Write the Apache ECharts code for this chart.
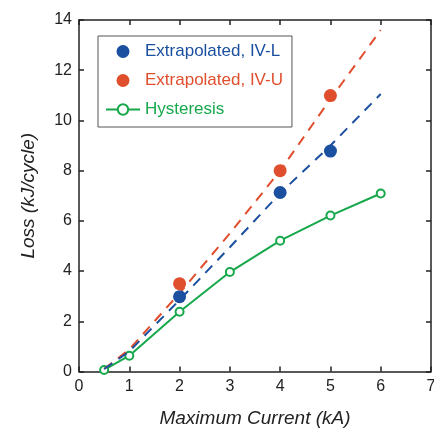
<!DOCTYPE html>
<html><head><meta charset="utf-8">
<script src="https://cdn.jsdelivr.net/npm/echarts@6/dist/echarts.min.js"></script>
<style>html,body{margin:0;padding:0;background:#fff}#c{width:434px;height:433px}</style>
</head><body><div id="c"></div>
<script>
// Data
const xTicks = [0, 1, 2, 3, 4, 5, 6, 7];
const yTicks = [0, 2, 4, 6, 8, 10, 12, 14];
const hystX = [0.5, 1, 2, 3, 4, 5, 6];
const hystY = [0.06, 0.63, 2.38, 3.96, 5.21, 6.21, 7.09];
const ivlX = [2, 4, 5];
const ivlY = [2.98, 7.13, 8.78];
const ivuX = [2, 4, 5];
const ivuY = [3.5, 8.0, 10.99];
const fitX = [0.5, 1, 2, 3, 4, 5, 6];
const fitLY = [0.1, 0.8, 2.85, 4.95, 7.1, 9.0, 11.05];
const fitUY = [0.1, 0.88, 3.12, 5.5, 8.0, 10.85, 13.6];

const BLUE = '#1b4f9f', RED = '#e04f2d', GREEN = '#16a84b', AX = '#222';
const FONT = "'Liberation Sans', Arial, Helvetica, sans-serif";
const pairs = (xs, ys) => xs.map((x, i) => [x, ys[i]]);

const axisCommon = {
  type: 'value',
  axisLine: { show: true, onZero: false, lineStyle: { color: AX, width: 1.5 } },
  axisTick: { show: true, inside: true, length: 5, lineStyle: { color: AX, width: 1.5 } },
  splitLine: { show: false }
};
const chart = echarts.init(document.getElementById('c'), null, { renderer: 'canvas' });
chart.setOption({
  animation: false,
  backgroundColor: '#fff',
  grid: { left: 79, right: 3, top: 20, bottom: 61.5, containLabel: false, outerBoundsMode: 'none' },
  xAxis: [
    Object.assign({}, axisCommon, {
      position: 'bottom', min: xTicks[0], max: xTicks[xTicks.length - 1], interval: 1,
      axisLabel: { fontSize: 16, color: '#222', margin: 7, fontFamily: FONT },
      name: 'Maximum Current (kA)', nameLocation: 'middle', nameGap: 38,
      nameTextStyle: { fontSize: 19, fontStyle: 'italic', color: '#222', fontFamily: FONT }
    }),
    Object.assign({}, axisCommon, {
      position: 'top', min: xTicks[0], max: xTicks[xTicks.length - 1], interval: 1,
      axisLabel: { show: false }
    })
  ],
  yAxis: [
    Object.assign({}, axisCommon, {
      position: 'left', min: yTicks[0], max: yTicks[yTicks.length - 1], interval: 2,
      axisLabel: { fontSize: 16, color: '#222', margin: 7, fontFamily: FONT },
      name: 'Loss (kJ/cycle)', nameLocation: 'middle', nameGap: 41,
      nameTextStyle: { fontSize: 19, fontStyle: 'italic', color: '#222', fontFamily: FONT }
    }),
    Object.assign({}, axisCommon, {
      position: 'right', min: yTicks[0], max: yTicks[yTicks.length - 1], interval: 2,
      axisLabel: { show: false }
    })
  ],
  legend: {
    orient: 'vertical', left: 98, top: 36, padding: [7, 9, 9, 7],
    itemWidth: 34, itemHeight: 13, itemGap: 12,
    borderColor: '#555', borderWidth: 1, backgroundColor: '#fff',
    selectedMode: false,
    textStyle: { fontSize: 17, lineHeight: 17, fontFamily: FONT },
    data: [
      { name: 'Extrapolated, IV-L', icon: 'circle', textStyle: { color: BLUE } },
      { name: 'Extrapolated, IV-U', icon: 'circle', textStyle: { color: RED } },
      { name: 'Hysteresis', textStyle: { color: GREEN } }
    ]
  },
  series: [
    {
      name: 'Hysteresis', type: 'line', data: pairs(hystX, hystY), z: 2,
      symbol: 'emptyCircle', symbolSize: 8,
      lineStyle: { color: GREEN, width: 2 },
      itemStyle: { color: GREEN, borderWidth: 1.5 }
    },
    {
      name: 'fitU', type: 'line', data: pairs(fitX, fitUY), z: 3, symbol: 'none',
      lineStyle: { color: RED, width: 2, type: [10, 7.5] }
    },
    {
      name: 'fitL', type: 'line', data: pairs(fitX, fitLY), z: 3, symbol: 'none',
      lineStyle: { color: BLUE, width: 2, type: [10, 7.5] }
    },
    {
      name: 'Extrapolated, IV-L', type: 'scatter', data: pairs(ivlX, ivlY), z: 4,
      symbolSize: 13, itemStyle: { color: BLUE, opacity: 1 }
    },
    {
      name: 'Extrapolated, IV-U', type: 'scatter', data: pairs(ivuX, ivuY), z: 4,
      symbolSize: 13, itemStyle: { color: RED, opacity: 1 }
    }
  ]
});
</script></body></html>
